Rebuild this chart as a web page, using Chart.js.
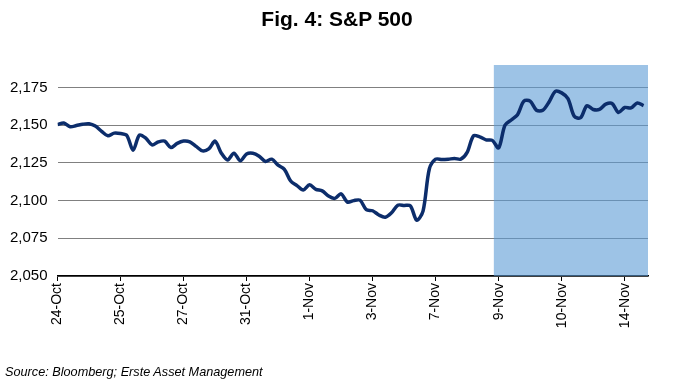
<!DOCTYPE html>
<html>
<head>
<meta charset="utf-8">
<script src="https://cdn.jsdelivr.net/npm/chart.js@4/dist/chart.umd.min.js"></script>
<style>
  html, body { margin: 0; padding: 0; background: #fff; }
  #wrap { position: relative; width: 680px; height: 385px; font-family: "Liberation Sans", Arial, sans-serif; }
  #title { position: absolute; left: 0; width: 674px; top: 7px; line-height: 24px; text-align: center; font-weight: bold; font-size: 21px; color: #000; }
  #source { position: absolute; left: 5px; top: 364px; line-height: 16px; font-style: italic; font-size: 12.7px; color: #000; }
  canvas { position: absolute; left: 0; top: 0; }
</style>
</head>
<body>
<div id="wrap">
  <canvas id="chart" width="680" height="385"></canvas>
  <div id="title">Fig. 4: S&amp;P 500</div>
  <div id="source">Source: Bloomberg; Erste Asset Management</div>
</div>
<script>
// S&P 500 Schlusskurse (intraday, gleichmäßige Abstände)
const spx = [
  2150.5, 2151.5, 2149, 2149.8, 2150.7, 2151, 2149.5, 2146, 2143, 2144.8,
  2144.5, 2143.2, 2133.5, 2143.5, 2141.5, 2137, 2139, 2139.5, 2135.2, 2138,
  2139.5, 2139, 2136, 2133, 2134.3, 2139.5, 2131.5, 2127, 2131.5, 2126.5,
  2131, 2131.5, 2129.5, 2126, 2127.5, 2123.5, 2120.8, 2113, 2110, 2107,
  2110.5, 2107.5, 2106.5, 2103, 2101.5, 2104.5, 2099, 2100, 2100.3, 2094,
  2093.3, 2090.5, 2089, 2092, 2097, 2096.8, 2096.5, 2087, 2093, 2121,
  2127.5, 2127.3, 2127.5, 2128, 2127.5, 2132, 2143, 2142.3, 2140.3, 2140,
  2135, 2150, 2153.5, 2157, 2166, 2166, 2160, 2160, 2165.5, 2172.5,
  2171.5, 2167.7, 2156, 2155, 2163, 2160.5, 2160.5, 2164, 2164.5, 2158.5,
  2161.8, 2161.5, 2164.8, 2163
];

// Achsenbeschriftung
const tickIndex = [0, 10, 20, 30, 40, 50, 60, 70, 80, 90];
const tickLabels = ['24-Oct', '25-Oct', '27-Oct', '31-Oct', '1-Nov', '3-Nov', '7-Nov', '9-Nov', '10-Nov', '14-Nov'];

// markierter Zeitraum (ab 9. Nov)
const shadeFrom = 69.2;
const shadeTo = 93.7;
const shadeTop = 2190;

const yMin = 2050;
const yMax = 2190;

new Chart(document.getElementById('chart'), {
  type: 'line',
  data: {
    datasets: [
      {
        label: 'S&P 500',
        data: spx.map((v, i) => ({ x: i, y: v })),
        borderColor: '#0c2d6b',
        borderWidth: 3.5,
        pointRadius: 0,
        tension: 0.3,
        fill: false
      },
      {
        label: 'shade',
        data: [{ x: shadeFrom, y: shadeTop }, { x: shadeTo, y: shadeTop }],
        borderWidth: 0,
        pointRadius: 0,
        backgroundColor: 'rgba(91,155,213,0.6)',
        fill: 'start'
      }
    ]
  },
  options: {
    responsive: false,
    animation: false,
    layout: { padding: { top: 65, left: 0, right: 32, bottom: 0 } },
    plugins: {
      legend: { display: false },
      tooltip: { enabled: false },
      title: { display: false }
    },
    scales: {
      x: {
        type: 'linear',
        min: 0,
        max: shadeTo,
        afterBuildTicks: scale => { scale.ticks = tickIndex.map(v => ({ value: v })); },
        afterFit: scale => { scale.height = 109; },
        ticks: {
          autoSkip: false,
          minRotation: 90,
          maxRotation: 90,
          padding: 2,
          color: '#000',
          font: { family: 'Liberation Sans', size: 14 },
          callback: (v, i) => tickLabels[i]
        },
        grid: { drawOnChartArea: false, drawTicks: true, tickLength: 5, color: '#000' },
        border: { display: true, color: '#000', width: 1.5 }
      },
      y: {
        min: yMin,
        max: yMax,
        afterBuildTicks: scale => { scale.ticks = scale.ticks.filter(t => t.value % 25 === 0); },
        afterFit: scale => { scale.width = 57.5; },
        ticks: {
          stepSize: 25,
          padding: 10,
          color: '#000',
          font: { family: 'Liberation Sans', size: 15 },
          callback: v => v.toLocaleString('en-US')
        },
        grid: { color: '#808080', lineWidth: 1, drawTicks: false },
        border: { display: false }
      }
    }
  }
});
</script>
</body>
</html>
